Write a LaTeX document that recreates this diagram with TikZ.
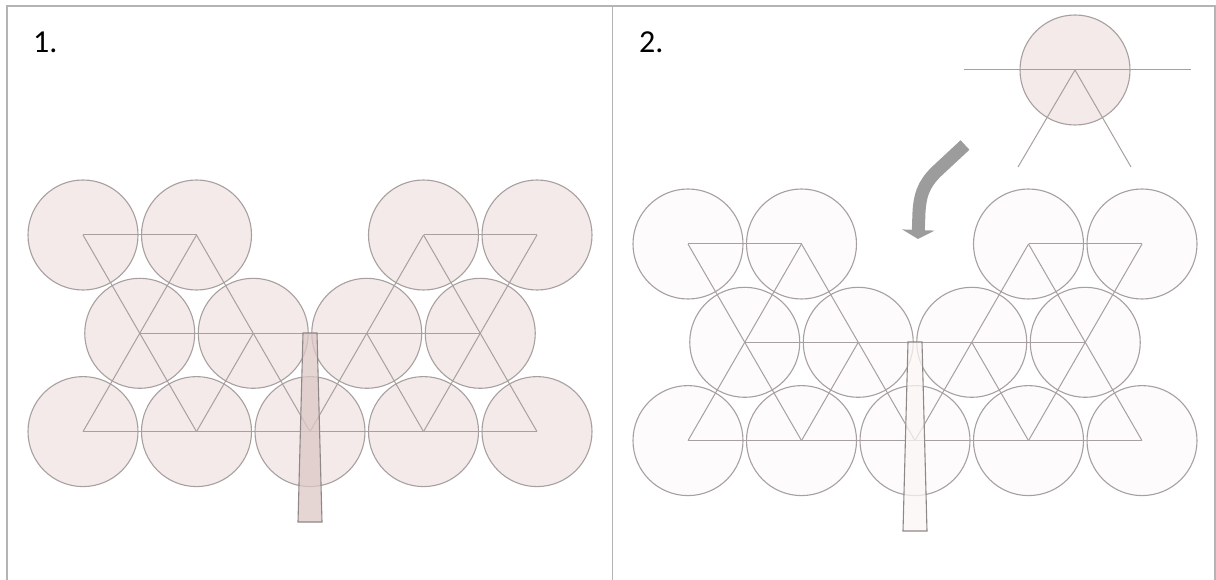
\documentclass[tikz,border=0pt]{standalone}
\usepackage{fontspec}
\setmainfont{Carlito}
\usetikzlibrary{arrows.meta}

\definecolor{framegray}{HTML}{B4B4B4}
\definecolor{edgegray}{HTML}{A8A0A0}
\definecolor{discpink}{HTML}{F4EAE9}
\definecolor{discpale}{HTML}{FDFBFB}
\definecolor{stempink}{HTML}{DCC8C6}
\definecolor{stempale}{HTML}{FBF6F5}
\definecolor{arrowgray}{HTML}{9C9C9C}

\begin{document}
\begin{tikzpicture}[
  x=1pt, y=-1pt,
  disc/.style={circle, draw=edgegray, line width=1.1pt, minimum size=110pt, inner sep=0pt},
  link/.style={draw=edgegray, line width=1pt},
  stem/.style={draw=edgegray!85!black, line width=1.1pt, fill opacity=0.75},
  frame/.style={draw=framegray, line width=1.6pt},
  panellabel/.style={anchor=base west, inner sep=0pt, font=\fontsize{32}{38}\selectfont},
  bigarrow/.style={draw=arrowgray, line width=13pt, -{Triangle[width=32pt, length=9pt]}}
]
\useasboundingbox (0,0) rectangle (1216,580);

% frame and divider
\draw[frame] (7,580) -- (7,6) -- (1215,6) -- (1215,580);
\draw[frame] (612.5,6) -- (612.5,580);

\node[panellabel] (one) at (33,53) {1.};
\node[panellabel] (two) at (639,53) {2.};

% the two packings
\foreach \p/\ox/\oy/\fc/\sc in {a/0/0/discpink/stempink, b/605/9/discpale/stempale} {
  \begin{scope}[shift={(\ox,\oy)}]
    \foreach \n/\x in {1/83, 2/196.5, 3/423.5, 4/537}
      \node[disc, fill=\fc] (\p t\n) at (\x,235) {};
    \foreach \n/\x in {1/139.75, 2/253.25, 3/366.75, 4/480.25}
      \node[disc, fill=\fc] (\p m\n) at (\x,333.3) {};
    \foreach \n/\x in {1/83, 2/196.5, 3/310, 4/423.5, 5/537}
      \node[disc, fill=\fc] (\p b\n) at (\x,431.6) {};
    % lattice lines
    \draw[link] (\p t1.center) -- (\p t2.center);
    \draw[link] (\p t3.center) -- (\p t4.center);
    \draw[link] (\p m1.center) -- (\p m4.center);
    \draw[link] (\p b1.center) -- (\p b5.center);
    \draw[link] (\p t1.center) -- (\p b2.center);
    \draw[link] (\p t2.center) -- (\p b1.center);
    \draw[link] (\p t2.center) -- (\p b3.center);
    \draw[link] (\p m2.center) -- (\p b2.center);
    \draw[link] (\p t3.center) -- (\p b3.center);
    \draw[link] (\p t3.center) -- (\p b5.center);
    \draw[link] (\p t4.center) -- (\p b4.center);
    \draw[link] (\p m3.center) -- (\p b4.center);
    % stem
    \draw[stem, fill=\sc] (303,333) -- (317,333) -- (322,522) -- (298,522) -- cycle;
  \end{scope}
}

% incoming disc
\node[disc, fill=discpink] (newdisc) at (1075,70) {};
\coordinate (hl) at (964,70);
\coordinate (hr) at (1191,70);
\coordinate (dl) at (1018,167);
\coordinate (dr) at (1131,167);
\draw[link] (hl) -- (hr);
\draw[link] (newdisc.center) -- (dl);
\draw[link] (newdisc.center) -- (dr);

% arrow
\coordinate (arrowtail) at (965,145);
\coordinate (arrowtip) at (918,239);
\draw[bigarrow] (arrowtail) -- (936,172) .. controls (923,185) and (920,196) .. (919,212) -- (arrowtip);
\end{tikzpicture}
\end{document}
